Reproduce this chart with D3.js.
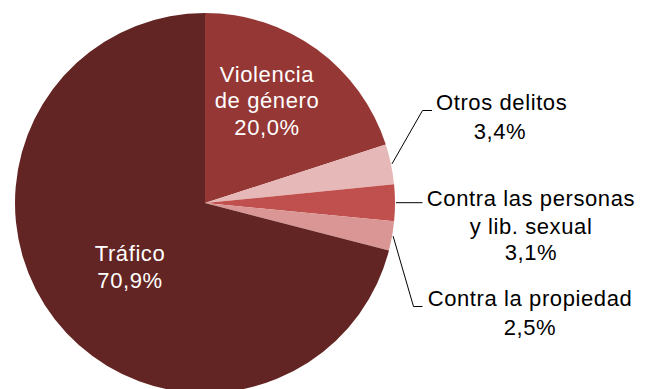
<!DOCTYPE html>
<html><head><meta charset="utf-8">
<script src="https://cdn.jsdelivr.net/npm/d3@7"></script>
<style>body{margin:0;background:#fff}svg{display:block}text{font-family:"Liberation Sans",Arial,sans-serif}</style>
</head><body>
<svg id="c" width="647" height="389"></svg>
<script>
const categories = ["Violencia de género","Otros delitos","Contra las personas y lib. sexual","Contra la propiedad","Tráfico"];
const values = [20.0, 3.4, 3.1, 2.5, 70.9];
const valueLabels = ["20,0%","3,4%","3,1%","2,5%","70,9%"];
const colors = ["#953735","#E6B9B8","#C0504D","#D99694","#632523"];

const svg = d3.select("#c");
const cx = 205, cy = 203, R = 190;
const g = svg.append("g").attr("transform", `translate(${cx},${cy})`);
const pie = d3.pie().sort(null).value(d => d)(values);
const arc = d3.arc().innerRadius(0).outerRadius(R);
g.selectAll("path").data(pie).join("path")
  .attr("d", arc).attr("fill", (d,i) => colors[i]);

const fs = 22;
function lines(x, ys, arr, fill, anchor="middle") {
  arr.forEach((t, k) => svg.append("text").attr("x", x).attr("y", ys[k])
    .attr("text-anchor", anchor).attr("dominant-baseline","central")
    .attr("font-size", fs).attr("letter-spacing", 0.6).attr("fill", fill).text(t));
}
// inside labels
lines(267, [74, 100, 127], ["Violencia", "de género", valueLabels[0]], "#fff");
lines(130, [253, 280], ["Tráfico", valueLabels[4]], "#fff");

// leader lines anchored on slice edges
function edge(i, frac) {
  const d = pie[i];
  const a = d.startAngle + (d.endAngle - d.startAngle) * frac;
  return [cx + (R + 1) * Math.sin(a), cy - (R + 1) * Math.cos(a)];
}
const line = d3.line();
const p1 = edge(1, 0.5), p2 = edge(2, 0.5), p3 = edge(3, 0.5);
svg.append("path").attr("d", line([p1, [422.5, 110.5], [432, 110.5]])).attr("fill","none").attr("stroke","#000").attr("stroke-width",1);
svg.append("path").attr("d", line([p2, [422.5, p2[1]]])).attr("fill","none").attr("stroke","#000").attr("stroke-width",1);
svg.append("path").attr("d", line([p3, [413.5, 306.5], [422.5, 306.5]])).attr("fill","none").attr("stroke","#000").attr("stroke-width",1);

lines(436, [102], ["Otros delitos"], "#000", "start");
lines(500, [131], [valueLabels[1]], "#000");
lines(531, [198, 226, 252], ["Contra las personas", "y lib. sexual", valueLabels[2]], "#000");
lines(530, [298, 327], ["Contra la propiedad", valueLabels[3]], "#000");
</script>
</body></html>
